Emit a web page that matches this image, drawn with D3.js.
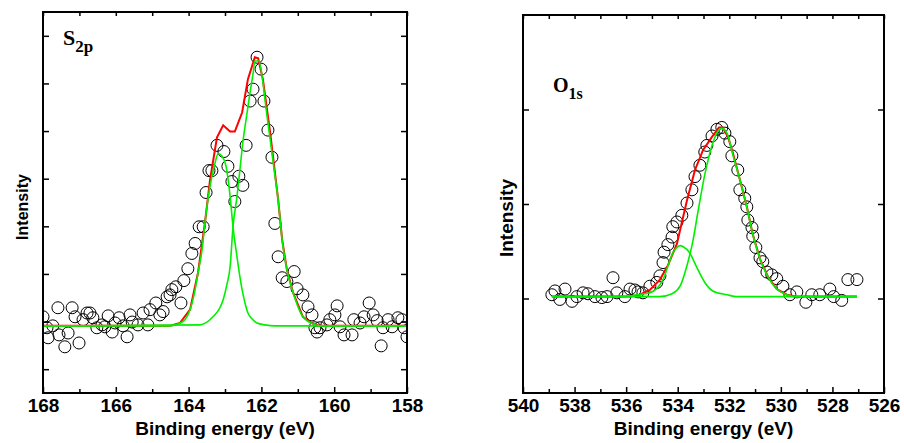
<!DOCTYPE html>
<html>
<head>
<meta charset="utf-8">
<script src="https://cdn.jsdelivr.net/npm/d3@7"></script>
<style>
body { margin: 0; background: #fff; }
svg { display: block; }
.tick text { font-family: "Liberation Sans", Arial, sans-serif; font-weight: bold; font-size: 19px; fill: #000; }
.tick line { stroke: #000; stroke-width: 1.5; }
</style>
</head>
<body>
<script>
var s2p_points = [
    [168.00,1.60],[167.89,1.37],[167.86,1.16],[167.73,1.41],[167.59,1.79],[167.56,1.22],[167.40,0.97],[167.31,1.26],
    [167.20,1.79],[167.12,1.60],[167.01,1.05],[166.90,1.54],[166.79,1.68],[166.71,1.68],[166.63,1.58],[166.52,1.37],
    [166.38,1.43],[166.30,1.39],[166.21,1.62],[166.10,1.28],[166.02,1.47],[165.91,1.58],[165.80,1.41],[165.69,1.18],
    [165.61,1.64],[165.55,1.49],[165.39,1.43],[165.25,1.68],[165.12,1.43],[165.06,1.75],[164.90,1.89],[164.79,1.64],
    [164.70,1.71],[164.59,2.02],[164.51,2.06],[164.46,2.17],[164.35,2.23],[164.21,1.89],[164.13,2.36],[164.02,2.61],
    [163.91,2.93],[163.82,3.14],[163.71,3.49],[163.60,3.49],[163.52,4.21],[163.44,4.67],[163.36,4.67],[163.22,5.20],
    [163.03,5.07],[162.92,4.76],[162.81,4.44],[162.73,4.02],[162.62,4.55],[162.51,4.36],[162.42,5.20],[162.31,6.13],
    [162.23,6.38],[162.12,7.05],[162.01,6.80],[161.93,6.13],[161.82,5.52],[161.71,4.95],[161.63,3.56],[161.54,2.86],
    [161.43,2.42],[161.30,2.34],[161.10,2.55],[161.02,2.19],[160.86,2.06],[160.72,1.81],[160.61,1.64],[160.53,1.37],
    [160.47,1.28],[160.39,1.37],[160.20,1.43],[160.12,1.54],[159.98,1.64],[159.92,1.83],[159.84,1.39],[159.73,1.22],
    [159.51,1.22],[159.46,1.54],[159.29,1.47],[159.18,1.60],[159.04,1.89],[158.93,1.64],[158.82,1.52],[158.71,0.99],
    [158.66,1.37],[158.52,1.54],[158.41,1.39],[158.25,1.58],[158.14,1.54],[158.08,1.37],[158.00,1.18]
];
// fit envelope (red) and the two components (green)
var s2p_envelope = [
    [168.00,1.41],[164.51,1.41],[164.24,1.47],[163.96,1.75],[163.74,2.53],[163.55,3.58],[163.41,4.48],[163.22,5.37],
    [163.05,5.62],[162.86,5.49],[162.73,5.49],[162.53,5.89],[162.37,6.59],[162.18,7.05],[162.09,7.03],[161.96,6.59],
    [161.76,5.47],[161.54,4.06],[161.43,3.22],[161.30,2.59],[161.13,2.11],[160.86,1.60],[160.58,1.45],[160.39,1.41],
    [158.00,1.41]
];
var s2p_peak_a = [
    [168.00,1.41],[164.51,1.41],[164.37,1.43],[164.24,1.47],[164.10,1.54],[163.96,1.75],[163.85,2.06],[163.74,2.53],
    [163.63,3.01],[163.55,3.58],[163.47,4.06],[163.36,4.55],[163.27,4.84],[163.19,5.03],[163.08,4.97],[162.97,4.76],
    [162.86,4.13],[162.78,3.49],[162.67,2.86],[162.59,2.44],[162.53,2.17],[162.45,1.89],[162.37,1.68],[162.26,1.56],
    [162.12,1.47],[161.90,1.43],[161.63,1.41],[158.00,1.41]
];
var s2p_peak_b = [
    [168.00,1.41],[163.69,1.43],[163.33,1.60],[163.14,1.79],[163.05,1.96],[162.95,2.27],[162.86,2.65],[162.78,3.49],
    [162.67,4.13],[162.59,4.69],[162.51,5.26],[162.40,5.85],[162.31,6.32],[162.23,6.70],[162.18,6.97],[162.07,6.97],
    [161.96,6.53],[161.87,5.96],[161.76,5.33],[161.65,4.69],[161.54,4.06],[161.43,3.22],[161.30,2.59],[161.13,2.11],
    [160.86,1.60],[160.58,1.45],[160.39,1.41],[158.00,1.41]
];
var s2p_major_ticks = [168, 166, 164, 162, 160, 158];
var s2p_minor_ticks = [167, 165, 163, 161, 159];
var s2p_y_ticks = [0.5, 1.5, 2.5, 3.5, 4.5, 5.5, 6.5, 7.5];

// O 1s
var o1s_points = [
    [538.88,1.04],[538.76,1.08],[538.57,0.99],[538.37,1.10],[538.10,0.97],[537.91,1.02],[537.67,1.06],[537.48,1.05],
    [537.21,1.02],[536.94,1.01],[536.74,1.02],[536.51,1.22],[536.36,1.06],[536.05,1.02],[535.85,1.10],[535.66,1.09],
    [535.54,1.07],[535.35,1.06],[535.08,1.13],[534.81,1.17],[534.69,1.24],[534.57,1.38],[534.53,1.49],[534.38,1.57],
    [534.22,1.65],[534.19,1.76],[534.03,1.81],[533.84,1.88],[533.64,2.01],[533.45,2.15],[533.33,2.29],[533.14,2.41],
    [532.95,2.55],[532.87,2.62],[532.67,2.72],[532.48,2.79],[532.29,2.81],[532.17,2.75],[531.98,2.66],[531.90,2.51],
    [531.67,2.36],[531.59,2.15],[531.40,2.06],[531.32,1.97],[531.28,1.83],[531.12,1.75],[531.09,1.66],[530.97,1.54],
    [530.81,1.43],[530.70,1.39],[530.54,1.28],[530.35,1.25],[530.16,1.21],[529.92,1.13],[529.65,1.04],[529.38,1.07],
    [529.03,0.96],[528.80,1.04],[528.49,1.04],[528.10,1.10],[527.95,1.02],[527.64,0.98],[527.40,1.20],[527.05,1.20]
];
var o1s_envelope = [
    [538.88,1.02],[535.85,1.02],[535.47,1.04],[535.08,1.09],[534.69,1.20],[534.38,1.35],[534.03,1.58],[533.64,2.04],
    [533.33,2.36],[533.02,2.57],[532.67,2.71],[532.40,2.81],[532.25,2.81],[532.05,2.71],[531.86,2.54],[531.59,2.26],
    [531.32,1.97],[531.09,1.68],[530.81,1.42],[530.50,1.23],[530.16,1.10],[529.77,1.04],[529.38,1.02],[527.05,1.02]
];
var o1s_peak_a = [
    [538.88,1.02],[534.69,1.02],[534.22,1.05],[533.91,1.13],[533.64,1.35],[533.41,1.61],[533.22,1.91],[532.95,2.31],
    [532.67,2.62],[532.44,2.77],[532.29,2.80],[532.09,2.75],[531.86,2.52],[531.59,2.26],[531.32,1.97],[531.09,1.68],
    [530.81,1.42],[530.50,1.23],[530.16,1.10],[529.77,1.04],[529.38,1.02],[527.05,1.02]
];
var o1s_peak_b = [
    [538.88,1.02],[536.05,1.02],[535.58,1.04],[535.08,1.06],[534.57,1.20],[534.19,1.48],[533.91,1.56],[533.80,1.55],
    [533.53,1.48],[533.26,1.33],[532.95,1.17],[532.64,1.08],[532.09,1.04],[531.71,1.02],[527.05,1.02]
];
var o1s_major_ticks = [540, 538, 536, 534, 532, 530, 528, 526];
var o1s_minor_ticks = [539, 537, 535, 533, 531, 529, 527];
var o1s_y_ticks = [1, 2, 3];

class Xps_Panel {

    constructor(svg, name, box, x_domain, y_domain) {
	this.svg = svg;
	this.name = name;
	this.box = box;
	this.x = d3.scaleLinear().domain(x_domain).range([box.left, box.right]);
	this.y = d3.scaleLinear().domain(y_domain).range([box.bottom, box.top]);

	//points sitting on the frame get cut, like in the original
	this.svg.append("clipPath")
		.attr("id", name + "_clip")
		.append("rect")
		.attr("x", box.left)
		.attr("y", box.top)
		.attr("width", box.right - box.left)
		.attr("height", box.bottom - box.top);
    }

    add_axes(major, minor, y_ticks) {
	var b = this.box;
	var all = major.concat(minor);
	var g = this.svg.append("g").attr("class", this.name + "_axes");

	g.append("g").attr("transform", "translate(0," + b.bottom + ")")
		.call(d3.axisBottom(this.x).tickValues(major).tickFormat(d3.format("d"))
			.tickSize(-6).tickPadding(6));
	g.append("g").attr("transform", "translate(0," + b.bottom + ")")
		.call(d3.axisBottom(this.x).tickValues(minor).tickFormat("").tickSize(-4));
	g.append("g").attr("transform", "translate(0," + b.top + ")")
		.call(d3.axisTop(this.x).tickValues(all).tickFormat("").tickSize(-4));
	g.append("g").attr("transform", "translate(" + b.left + ",0)")
		.call(d3.axisLeft(this.y).tickValues(y_ticks).tickFormat("").tickSize(-6));
	g.append("g").attr("transform", "translate(" + b.right + ",0)")
		.call(d3.axisRight(this.y).tickValues(y_ticks).tickFormat("").tickSize(-6));
	g.selectAll(".domain").remove();

	g.append("rect")
		.attr("x", b.left)
		.attr("y", b.top)
		.attr("width", b.right - b.left)
		.attr("height", b.bottom - b.top)
		.style("fill", "none")
		.style("stroke", "#000")
		.style("stroke-width", 2);
    }

    add_points(data) {
	var self = this;
	this.svg.append("g")
		.attr("clip-path", "url(#" + this.name + "_clip)")
		.selectAll("circle")
		.data(data).join("circle")
		.attr("cx", d => self.x(d[0]))
		.attr("cy", d => self.y(d[1]))
		.attr("r", 6)
		.style("fill", "none")
		.style("stroke", "#000")
		.style("stroke-width", 1);
    }

    add_curve(data, color, width, curve) {
	var self = this;
	var my_line = d3.line()
		.x(d => self.x(d[0]))
		.y(d => self.y(d[1]))
		.curve(curve);
	this.svg.append("path")
		.datum(data)
		.attr("d", my_line)
		.style("fill", "none")
		.style("stroke", color)
		.style("stroke-width", width);
    }

    add_label(main, sub, x, y, size, sub_size) {
	var t = this.svg.append("text")
		.attr("x", x)
		.attr("y", y)
		.style("font-family", "'Liberation Serif', 'Times New Roman', serif")
		.style("font-weight", "bold")
		.style("font-size", size + "px");
	t.append("tspan").text(main);
	t.append("tspan").attr("dy", 7).style("font-size", sub_size + "px").text(sub);
    }

    add_titles(x_text, y_text, x_size, y_size, y_x, y_mid) {
	var b = this.box;
	this.svg.append("text")
		.attr("x", (b.left + b.right) / 2)
		.attr("y", 435)
		.attr("text-anchor", "middle")
		.style("font-family", "'Liberation Sans', Arial, sans-serif")
		.style("font-weight", "bold")
		.style("font-size", x_size + "px")
		.text(x_text);
	this.svg.append("text")
		.attr("transform", "translate(" + y_x + "," + y_mid + ") rotate(-90)")
		.attr("text-anchor", "middle")
		.style("font-family", "'Liberation Sans', Arial, sans-serif")
		.style("font-weight", "bold")
		.style("font-size", y_size + "px")
		.text(y_text);
    }
}

var svg = d3.select("body").append("svg")
	.attr("width", 904)
	.attr("height", 443)
	.style("background", "#fff");

var s2p = new Xps_Panel(svg, "s2p", {left: 43, right: 407, top: 12, bottom: 393}, [168, 158], [0, 8]);
s2p.add_points(s2p_points);
s2p.add_curve(s2p_envelope, "#ff0000", 2, d3.curveLinear);
s2p.add_curve(s2p_peak_a, "#00f000", 1.6, d3.curveMonotoneX);
s2p.add_curve(s2p_peak_b, "#00f000", 1.6, d3.curveMonotoneX);
s2p.add_axes(s2p_major_ticks, s2p_minor_ticks, s2p_y_ticks);
s2p.add_label("S", "2p", 63, 45, 22, 17);
s2p.add_titles("Binding energy (eV)", "Intensity", 19, 16, 28, 207);

var o1s = new Xps_Panel(svg, "o1s", {left: 523, right: 884, top: 15, bottom: 393}, [540, 526], [0, 4]);
o1s.add_points(o1s_points);
o1s.add_curve(o1s_envelope, "#ff0000", 2, d3.curveLinear);
o1s.add_curve(o1s_peak_a, "#00f000", 1.6, d3.curveMonotoneX);
o1s.add_curve(o1s_peak_b, "#00f000", 1.6, d3.curveMonotoneX);
o1s.add_axes(o1s_major_ticks, o1s_minor_ticks, o1s_y_ticks);
o1s.add_label("O", "1s", 553, 92, 20, 16);
o1s.add_titles("Binding energy (eV)", "Intensity", 19, 19, 513, 218);
</script>
</body>
</html>
